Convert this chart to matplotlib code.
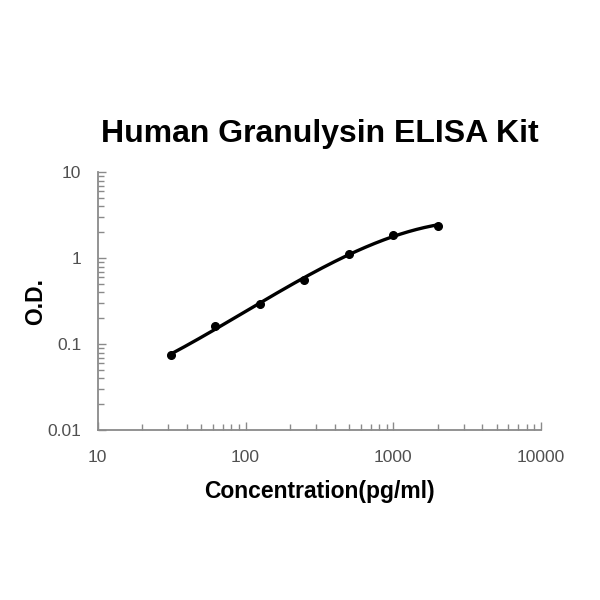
import numpy as np
import matplotlib
matplotlib.use("Agg")
import matplotlib.pyplot as plt
from matplotlib.ticker import LogLocator, FixedLocator, NullFormatter

# standard curve readings
conc = [31.25, 62.5, 125, 250, 500, 1000, 2000]
od = [0.0745, 0.163, 0.29, 0.565, 1.13, 1.85, 2.40]

x_ticks = [10, 100, 1000, 10000]
x_labels = ["10", "100", "1000", "10000"]
y_ticks = [0.01, 0.1, 1, 10]
y_labels = ["0.01", "0.1", "1", "10"]

plt.rcParams["font.family"] = ["Liberation Sans", "DejaVu Sans"]

fig = plt.figure(figsize=(6, 6), dpi=100)
ax = fig.add_axes([0.163, 0.283, 0.739, 0.43])

# smooth fit in log-log space
lx = np.log10(conc)
ly = np.log10(od)
coef = np.polyfit(lx, ly, 3)
xs = np.linspace(lx[0], lx[-1], 200)
ax.plot(10 ** xs, 10 ** np.polyval(coef, xs), color="black", lw=2.4)
ax.plot(conc, od, "o", color="black", ms=5.5)

ax.set_xscale("log")
ax.set_yscale("log")
ax.set_xlim(10, 10000)
ax.set_ylim(0.01, 10)

ax.xaxis.set_major_locator(FixedLocator(x_ticks))
ax.set_xticklabels(x_labels)
ax.yaxis.set_major_locator(FixedLocator(y_ticks))
ax.set_yticklabels(y_labels)
ax.xaxis.set_minor_locator(LogLocator(base=10, subs=np.arange(2, 10)))
ax.yaxis.set_minor_locator(LogLocator(base=10, subs=np.arange(2, 10)))
ax.xaxis.set_minor_formatter(NullFormatter())
ax.yaxis.set_minor_formatter(NullFormatter())

for s in ["top", "right"]:
    ax.spines[s].set_visible(False)
for s in ["left", "bottom"]:
    ax.spines[s].set_color("#8a8a8a")
    ax.spines[s].set_linewidth(1.3)

ax.tick_params(which="both", direction="in", color="#8a8a8a", width=1)
ax.tick_params(which="major", length=6, labelsize=12.5, labelcolor="#505050")
ax.tick_params(axis="x", which="major", pad=14)
ax.tick_params(axis="y", which="major", pad=12)
ax.tick_params(which="minor", length=4)

ax.set_title("Human Granulysin ELISA Kit", fontsize=23, fontweight="bold", pad=22)
ax.set_xlabel("Concentration(pg/ml)", fontsize=16.5, fontweight="bold", labelpad=11)
ax.set_ylabel("O.D.", fontsize=16.5, fontweight="bold")
ax.yaxis.set_label_coords(-0.115, 0.5)

fig.savefig("out.png", dpi=100)
plt.close(fig)
